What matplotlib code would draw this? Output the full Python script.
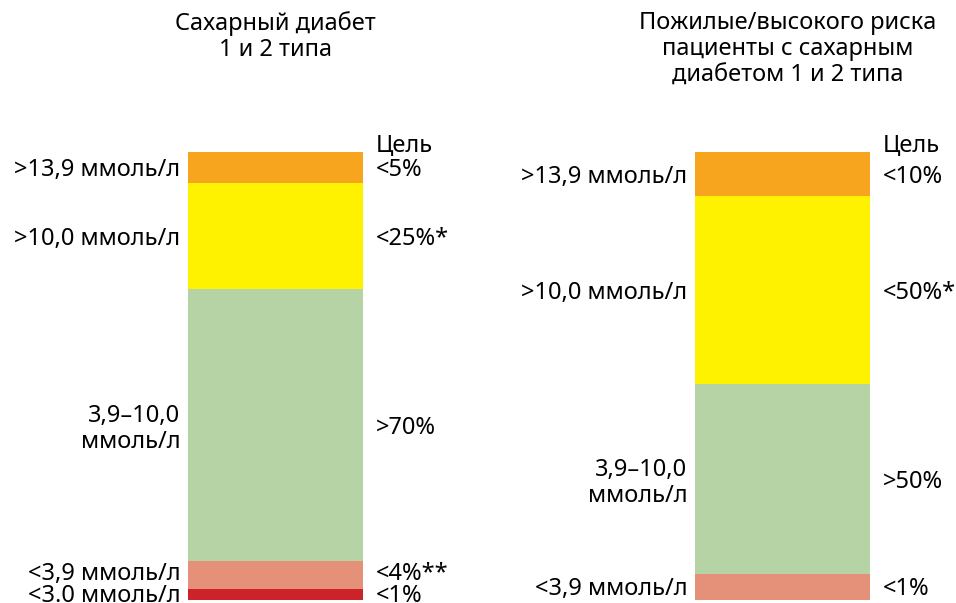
import numpy as np
import matplotlib.pyplot as plt

plt.rcParams['font.family'] = ['Noto Sans', 'DejaVu Sans']

# segment sizes (share of bar height, bottom to top)
colors = ['#CC2229', '#E5917A', '#B5D3A5', '#FFF200', '#F7A51F']

left_title = 'Сахарный диабет\n1 и 2 типа'
left_sizes = [2.5, 6.25, 60.7, 23.7, 6.9]
left_ranges = ['<3.0 ммоль/л', '<3,9 ммоль/л', '3,9–10,0\nммоль/л', '>10,0 ммоль/л', '>13,9 ммоль/л']
left_goals = ['<1%', '<4%**', '>70%', '<25%*', '<5%']

right_title = 'Пожилые/высокого риска\nпациенты с сахарным\nдиабетом 1 и 2 типа'
right_sizes = [5.8, 42.5, 41.9, 9.8]
right_ranges = ['<3,9 ммоль/л', '3,9–10,0\nммоль/л', '>10,0 ммоль/л', '>13,9 ммоль/л']
right_goals = ['<1%', '>50%', '<50%*', '<10%']
right_colors = colors[1:]

fig = plt.figure(figsize=(9.56, 6.03), dpi=100)
ax = fig.add_axes([0, 0, 1, 1])
ax.set_xlim(0, 956)
ax.set_ylim(-0.67, 133.9)
ax.axis('off')

fs = 17


def draw(xc, sizes, cols, ranges, goals, title, tx, nudge):
    sizes = np.array(sizes)
    bottoms = np.concatenate([[0], np.cumsum(sizes)[:-1]])
    ax.bar([xc] * len(sizes), sizes, bottom=bottoms, width=175, color=cols, linewidth=0)
    mids = bottoms + sizes / 2 + np.array(nudge)
    for m, r, g in zip(mids, ranges, goals):
        ax.text(xc - 95, m, r, ha='right', va='center_baseline', fontsize=fs, linespacing=1.15)
        ax.text(xc + 100, m, g, ha='left', va='center_baseline', fontsize=fs)
    top = sizes.sum()
    ax.text(xc + 100, top + 2, 'Цель', ha='left', va='center_baseline', fontsize=fs)
    ax.text(xc + tx, 131.5, title, ha='center', va='top', fontsize=fs, linespacing=1.15)


draw(275.5, left_sizes, colors, left_ranges, left_goals, left_title, 0, [0.4, 0.9, 0, 0, 0])
draw(782.5, right_sizes, right_colors, right_ranges, right_goals, right_title, 5, [0.3, 0, 0, 0])

fig.savefig('out.png', dpi=100)
